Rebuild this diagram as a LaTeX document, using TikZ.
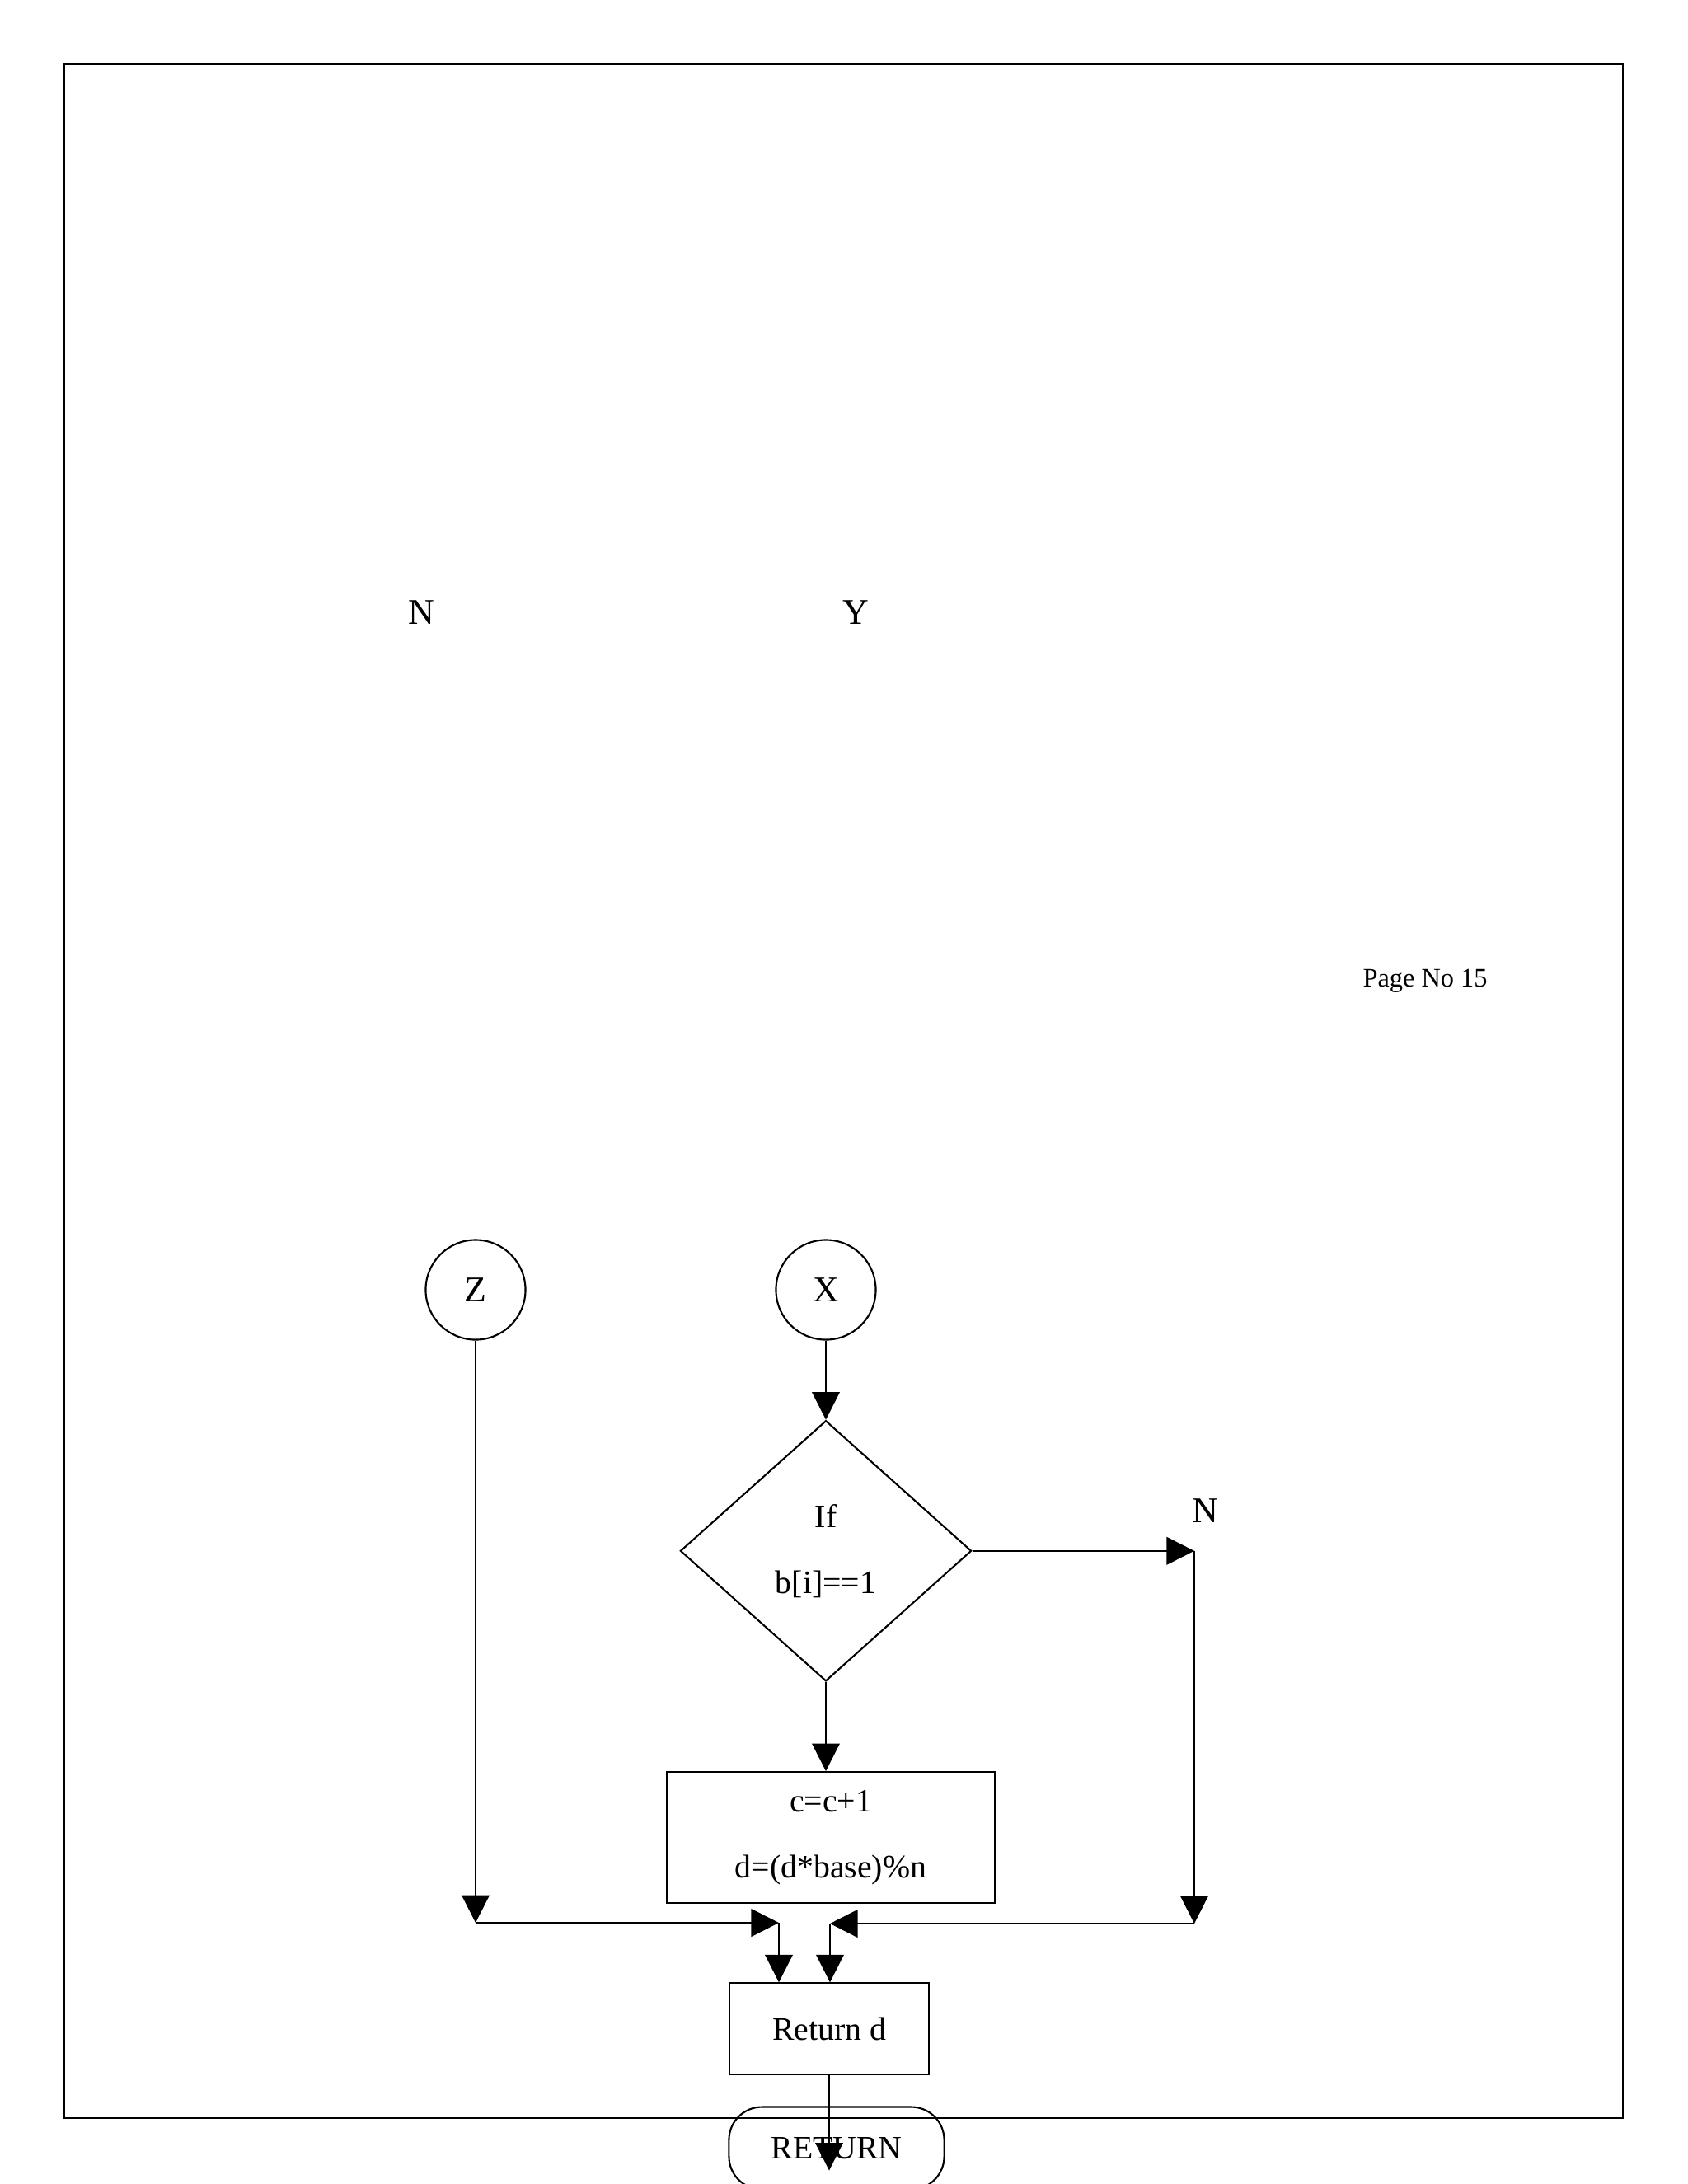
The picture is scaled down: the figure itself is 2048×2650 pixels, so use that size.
\documentclass[tikz,border=0pt]{standalone}
\usepackage{fontspec}
\setmainfont{Liberation Serif}
\usetikzlibrary{arrows.meta, positioning, shapes.geometric}
\newcommand{\letraCuerpo}{\fontsize{11.3}{22.8}\selectfont}
\newcommand{\letraEtiqueta}{\fontsize{12.5}{15}\selectfont}
\tikzset{
  cajaBase/.style={
    draw, line width=0.6pt, align=center, inner sep=0pt,
    font=\letraCuerpo
  },
  conector/.style={cajaBase, circle, minimum size=1.21cm, font=\letraEtiqueta},
  decision/.style={cajaBase, diamond, minimum width=3.53cm, minimum height=3.16cm},
  proceso/.style={cajaBase, rectangle, minimum width=3.98cm, minimum height=1.59cm},
  retorno/.style={cajaBase, rectangle, minimum width=2.42cm, minimum height=1.11cm},
  terminal/.style={cajaBase, rectangle, rounded corners=0.4cm,
    minimum width=2.61cm, minimum height=1.0cm},
  flecha/.style={-{Triangle[length=0.335cm, width=0.335cm]}, line width=0.6pt},
  etiqueta/.style={font=\letraEtiqueta, inner sep=0pt, anchor=base},
  pie/.style={font=\fontsize{9.2}{11}\selectfont, inner sep=0pt, anchor=base},
  marco/.style={draw, line width=0.6pt},
}
\begin{document}
\begin{tikzpicture}[x=0.01cm, y=-0.01cm]
    \useasboundingbox (0,0) rectangle (2048,2650);
    \clip (0,0) rectangle (2048,2650);
    \draw[marco] (78,78) rectangle (1969,2570);

    % textos sueltos
    \node[etiqueta] (nArriba) at (511,757) {N};
    \node[etiqueta] (yArriba) at (1038,757) {Y};
    \node[pie] (pagina) at (1729,1197) {Page No 15};

    \node[conector] (z) at (577,1565) {Z};
    \node[conector] (x) at (1002,1565) {X};
    \node[decision, below=0.96cm of x] (cond) {If\\b[i]==1};
    \node[proceso, below=1.08cm of cond, xshift=0.06cm] (upd) {c=c+1\\d=(d*base)\%n};
    \node[retorno, below=0.95cm of upd, xshift=-0.02cm] (ret) {Return d};
    \node[terminal, below=0.37cm of ret, xshift=0.09cm] (fin) {RETURN};
    \node[etiqueta] (nDer) at (1462,1847) {N};

    \coordinate (codoN) at (1449,0 |- cond.east);
    \coordinate (esqD) at (1449,2334);
    \coordinate (unionD) at (1007,2334);
    \coordinate (esqI) at (z |- 0,2333);
    \coordinate (unionI) at (945,2333);
    \coordinate[below=1.15cm of ret] (puntaFin);

    \draw[flecha] (x) -- (cond);
    \draw[flecha] (cond.south) -- (cond.south |- upd.north);
    \draw[flecha] (cond.east) -- (codoN);
    \draw[flecha] (codoN) -- (esqD);
    \draw[flecha] (esqD) -- (unionD);
    \draw[flecha] (unionD) -- (unionD |- ret.north);
    \draw[flecha] (z) -- (esqI);
    \draw[flecha] (esqI) -- (unionI);
    \draw[flecha] (unionI) -- (unionI |- ret.north);
    \draw[flecha] (ret) -- (puntaFin);
  \end{tikzpicture}
\end{document}
